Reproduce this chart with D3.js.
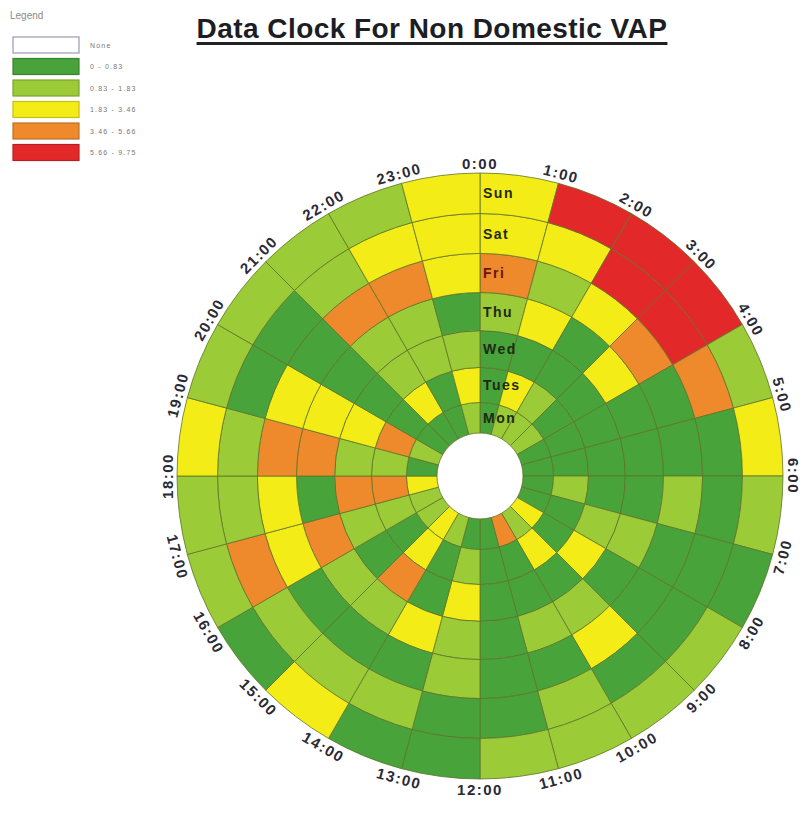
<!DOCTYPE html>
<html lang="en">
<head>
<meta charset="UTF-8">
<title>Data Clock For Non Domestic VAP</title>
<script src="https://d3js.org/d3.v7.min.js"></script>
<style>
    body { margin: 0; background: #fff; }
    svg text { font-family: "Liberation Sans", Arial, sans-serif; }
</style>
</head>
<body>
<svg id="clock"></svg>

<script>
    // Hours round the clock (0:00 at the top, clockwise) and days from the centre out
    let hours = ["0:00", "1:00", "2:00", "3:00", "4:00", "5:00", "6:00", "7:00", "8:00", "9:00", "10:00", "11:00",
        "12:00", "13:00", "14:00", "15:00", "16:00", "17:00", "18:00", "19:00", "20:00", "21:00", "22:00", "23:00"];
    let days = ["Mon", "Tues", "Wed", "Thu", "Fri", "Sat", "Sun"];

    // Class of each cell (0 = 0-0.83 ... 4 = 5.66-9.75), one value per hour
    let mon  = [0, 1, 1, 1, 0, 0, 0, 0, 2, 1, 3, 0, 0, 1, 2, 1, 1, 2, 0, 1, 0, 0, 0, 1];
    let tues = [0, 2, 1, 0, 0, 0, 1, 0, 0, 2, 0, 0, 1, 0, 2, 0, 1, 3, 1, 3, 0, 2, 0, 2];
    let wed  = [0, 0, 0, 0, 0, 0, 0, 1, 2, 0, 0, 0, 2, 0, 3, 0, 1, 3, 1, 2, 0, 1, 1, 1];
    let thu  = [1, 2, 0, 2, 0, 0, 0, 1, 0, 1, 1, 0, 1, 2, 1, 1, 3, 0, 3, 2, 0, 1, 1, 0];
    let fri  = [3, 1, 2, 3, 0, 0, 1, 0, 0, 2, 0, 0, 1, 0, 0, 0, 2, 2, 3, 2, 0, 3, 3, 2];
    let sat  = [2, 2, 4, 4, 3, 0, 0, 0, 0, 0, 1, 0, 0, 1, 1, 1, 3, 1, 1, 0, 0, 1, 2, 2];
    let sun  = [2, 4, 4, 4, 1, 2, 1, 0, 1, 1, 1, 1, 0, 0, 2, 0, 1, 1, 2, 1, 1, 1, 1, 2];

    // Legend classes
    let legendLabels = ["None", "0 - 0.83", "0.83 - 1.83", "1.83 - 3.46", "3.46 - 5.66", "5.66 - 9.75"];
    let levels = [0, 1, 2, 3, 4];
    let levelColours = ["#47a33a", "#9bcb36", "#f4ec16", "#ee8a2b", "#e3282a"];

    let series = [mon, tues, wed, thu, fri, sat, sun];

    let width = 806,
        height = 813,
        cx = 480,
        cy = 476;

    let svg = d3.select("#clock")
        .attr("width", width)
        .attr("height", height);

// Title with underline
    let title = svg.append("text")
        .attr("x", 432)
        .attr("y", 38)
        .attr("text-anchor", "middle")
        .attr("font-size", 28)
        .attr("font-weight", "bold")
        .attr("letter-spacing", 0.45)
        .attr("fill", "#1d1d24")
        .text("Data Clock For Non Domestic VAP");

    let tb = title.node().getBBox();
    svg.append("rect")
        .attr("x", tb.x)
        .attr("y", 42)
        .attr("width", tb.width)
        .attr("height", 3)
        .attr("fill", "#222");

// Scales
    let angle = d3.scaleBand()
        .domain(hours)
        .range([0, 2 * Math.PI]);

    let radius = d3.scalePow()
        .exponent(1.1)
        .domain([0, days.length])
        .range([43, 303]);

    let colour = d3.scaleOrdinal()
        .domain(levels)
        .range(levelColours);

    let cells = [];
    days.forEach(function (d, i) {
        series[i].forEach(function (v, h) {
            cells.push({"day": d, "ring": i, "hour": hours[h], "level": v});
        });
    });

    let arc = d3.arc()
        .innerRadius(function (d) { return radius(d.ring); })
        .outerRadius(function (d) { return radius(d.ring + 1); })
        .startAngle(function (d) { return angle(d.hour); })
        .endAngle(function (d) { return angle(d.hour) + angle.bandwidth(); });

    let g = svg.append("g")
        .attr("transform", "translate(" + cx + "," + cy + ")");

    g.selectAll(".cell")
        .data(cells)
        .enter()
        .append("path")
        .attr("class", "cell")
        .attr("d", arc)
        .attr("fill", function (d) { return colour(d.level); })
        .attr("stroke", "#60732b")
        .attr("stroke-width", 0.8);

// Hour labels round the outside
    let labelRadius = 313;
    g.selectAll(".hour")
        .data(hours)
        .enter()
        .append("text")
        .attr("class", "hour")
        .attr("transform", function (d) {
            let a = angle(d);
            let deg = a * 180 / Math.PI;
            let rot = (deg > 90 && deg < 270) ? deg - 180 : deg;
            return "translate(" + (labelRadius * Math.sin(a)) + "," + (-labelRadius * Math.cos(a)) + ") rotate(" + rot + ")";
        })
        .attr("text-anchor", "middle")
        .attr("dominant-baseline", "central")
        .attr("font-size", 15)
        .attr("font-weight", "bold")
        .attr("letter-spacing", 1.5)
        .attr("fill", "#2a2a36")
        .text(function (d) { return d; });

// Day labels along the 0:00 line
    g.selectAll(".day")
        .data(days)
        .enter()
        .append("text")
        .attr("class", "day")
        .attr("x", 3)
        .attr("y", function (d, i) { return -(radius(i) + radius(i + 1)) / 2; })
        .attr("dominant-baseline", "central")
        .attr("font-size", 14)
        .attr("font-weight", "bold")
        .attr("letter-spacing", 1.5)
        .attr("fill", function (d) { return d === "Fri" ? "#6a1410" : "#1e2a14"; })
        .text(function (d) { return d; });

// Legend
    svg.append("text")
        .attr("x", 10)
        .attr("y", 19)
        .attr("font-size", 10)
        .attr("fill", "#8a8a8a")
        .text("Legend");

    let legend = svg.append("g")
        .attr("transform", "translate(13,37)");

    let legendFill = ["#ffffff"].concat(levels.map(function (l) { return colour(l); }));
    let step = 21.5;

    legend.selectAll(".lbox")
        .data(legendLabels)
        .enter()
        .append("rect")
        .attr("x", 0)
        .attr("y", function (d, i) { return i * step; })
        .attr("width", 66)
        .attr("height", 16)
        .attr("fill", function (d, i) { return legendFill[i]; })
        .attr("stroke", function (d, i) { return i === 0 ? "#9a9ab6" : d3.color(legendFill[i]).darker(0.6); })
        .attr("stroke-width", 1.2);

    legend.selectAll(".ltext")
        .data(legendLabels)
        .enter()
        .append("text")
        .attr("x", 77)
        .attr("y", function (d, i) { return i * step + 8; })
        .attr("dominant-baseline", "central")
        .attr("font-size", 7)
        .attr("letter-spacing", 1.2)
        .attr("fill", "#777")
        .text(function (d) { return d; });
</script>
</body>
</html>
